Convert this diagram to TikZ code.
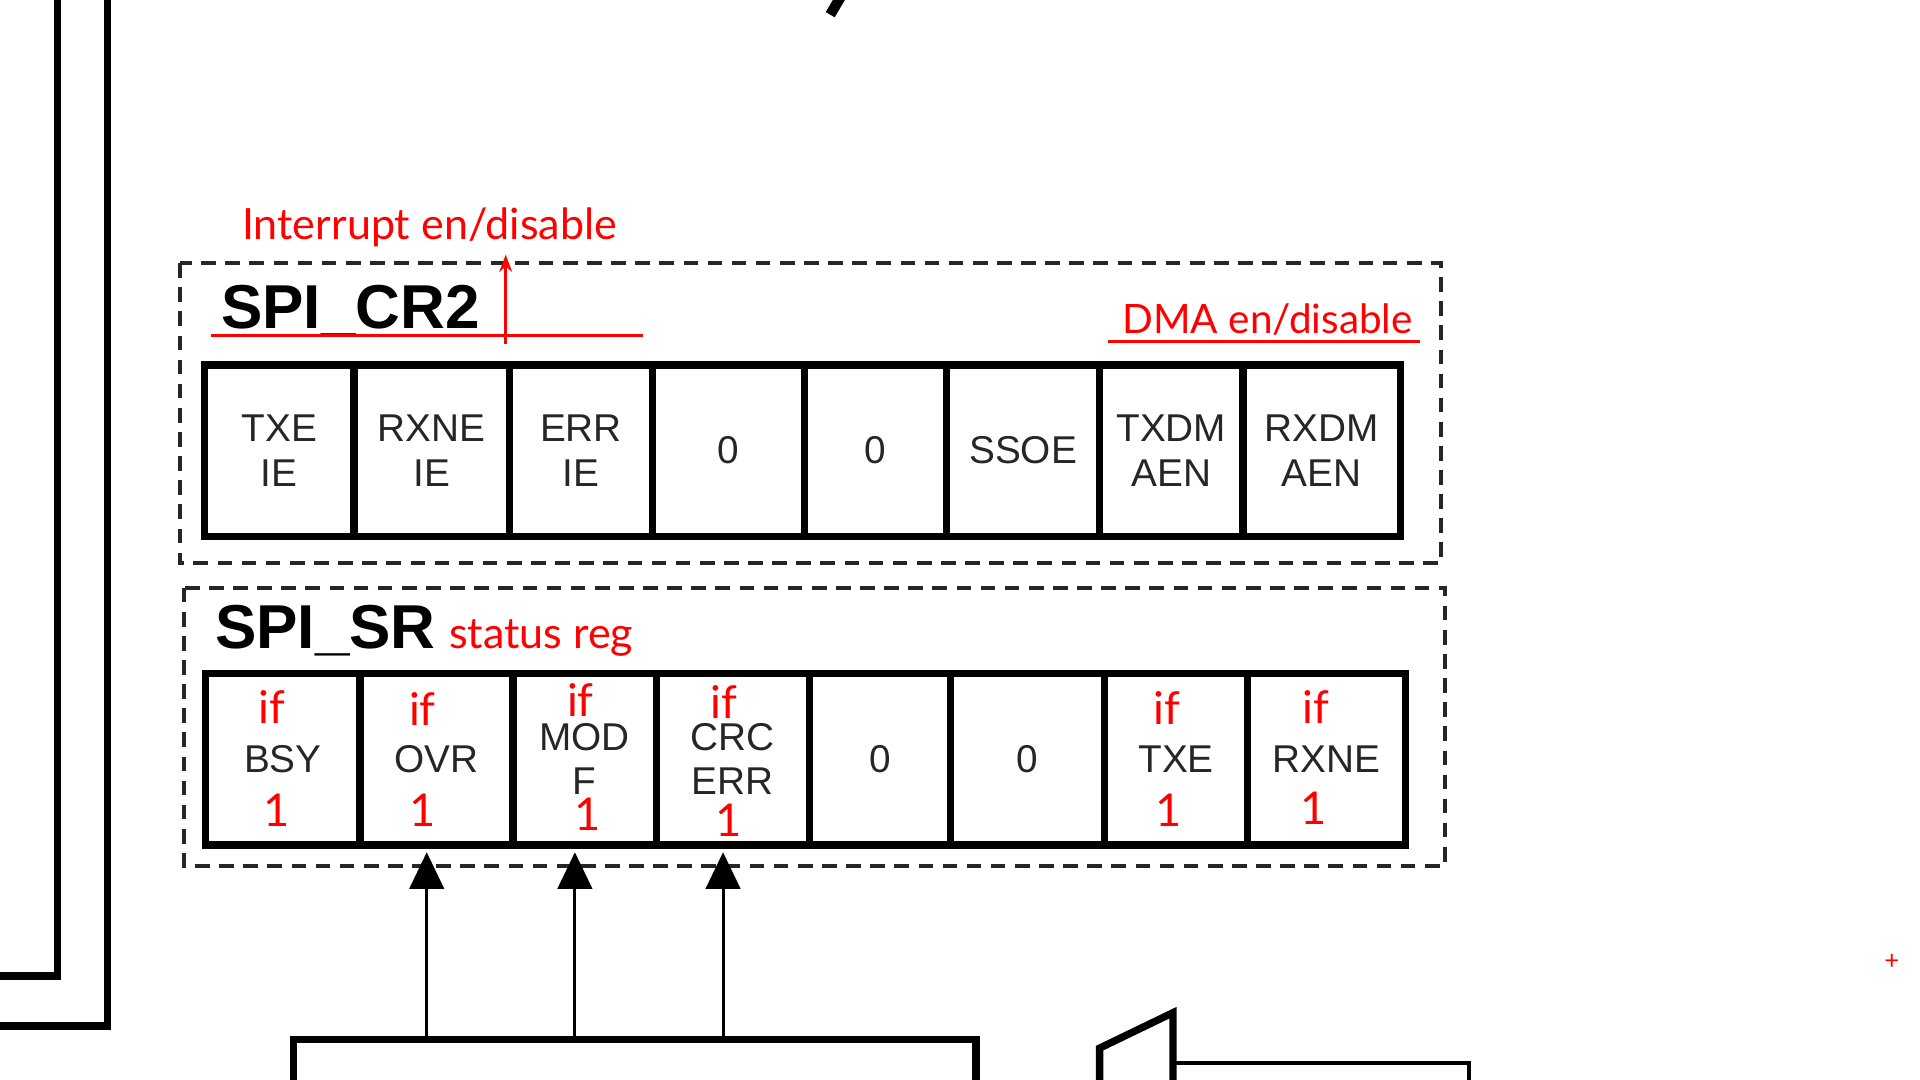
\documentclass[tikz,border=0pt]{standalone}
\usepackage{fontspec}
\setmainfont{Liberation Sans}
\newfontfamily\notefont{Lato}
\usetikzlibrary{arrows.meta,positioning}
\tikzset{
  bitcell/.style={rectangle,draw=black,line width=1.7pt,minimum height=1.4cm,inner sep=0pt,align=center,text=black!85,font=\fontsize{9}{10.3}\selectfont},
  regframe/.style={draw=black!85,line width=0.85pt,dash pattern=on 3.4pt off 2.2pt},
  regname/.style={anchor=base west,inner sep=0pt,font=\fontsize{14.4}{16}\selectfont\bfseries},
  note/.style={text=red,inner sep=0pt,font=\notefont\fontsize{10}{12}\selectfont},
  flagnote/.style={note,font=\notefont\fontsize{10.5}{12}\selectfont},
  noteline/.style={draw=red,line width=0.6pt},
  flagarrow/.style={-{Triangle[length=8.5pt,width=8pt]},line width=0.7pt},
  wire/.style={line width=1.7pt}
}

\begin{document}
\begin{tikzpicture}[x=0.01cm,y=-0.01cm]
    \clip (0,0) rectangle (1568,882);

    % wires coming in from the left and the top
    \draw[wire] (47,-10) -- (47,797) -- (-10,797);
    \draw[wire] (88,-10) -- (88,838) -- (-10,838);
    \draw[line width=2.4pt] (688,-5) -- (678,12);

    % register frames
    \draw[regframe] (147,215) rectangle (1177,460);
    \draw[regframe] (150,480) rectangle (1180,707);

    \node[regname] (crname) at (180,268) {SPI\_CR2};
    \node[regname] (srname) at (175,530) {SPI\_SR};

    % control register 2
    \foreach \i/\xl/\xr/\txt in {0/167/289/{TXE\\IE},1/289/416/{RXNE\\IE},2/416/533/{ERR\\IE},3/533/657/0,
                                 4/657/773/0,5/773/898/SSOE,6/898/1015/{TXDM\\AEN},7/1015/1144/{RXDM\\AEN}}{
      \pgfmathsetmacro\cw{(\xr-\xl)*0.01}
      \node[bitcell,minimum width=\cw cm] (cr\i) at ({(\xl+\xr)/2},368) {\txt};
    }

    % status register
    \foreach \i/\xl/\xr/\txt in {0/168/294/BSY,1/294/419/OVR,2/419/536/{MOD\\F},3/536/661/{CRC\\ERR},
                                 4/661/776/0,5/776/902/0,6/902/1019/TXE,7/1019/1148/RXNE}{
      \pgfmathsetmacro\cw{(\xr-\xl)*0.01}
      \node[bitcell,minimum width=\cw cm] (sr\i) at ({(\xl+\xr)/2},620) {\txt};
    }

    % hand notes
    \node[note,anchor=base west] (irqnote) at (197,196) {Interrupt en/disable};
    \node[note,anchor=base west,font=\notefont\fontsize{9.4}{12}\selectfont] (dmanote) at (916,272) {DMA en/disable};
    \node[note,anchor=base west] (srnote) at (366,530) {status reg};
    \draw[noteline] (172,274) -- (525,274);
    \draw[noteline] (905,279) -- (1160,279);
    \coordinate (irqfoot) at (413,281);
    \draw[noteline,-{Stealth[length=4pt,width=3pt]}] (irqfoot) -- (irqfoot |- 0,208);

    \foreach \i/\ix/\iy/\ox/\oy in {0/222/577/226/662,1/345/579/345/662,2/474/572/480/665,
                                    3/591/573/595/670,6/953/578/954/662,7/1075/577/1073/660}{
      \node[flagnote] (if\i) at (\ix,\iy) {if};
      \node[flagnote] (one\i) at (\ox,\oy) {1};
    }
    \node[note,font=\notefont\fontsize{6}{6}\selectfont] (mark) at (1545,786) {+};

    % error logic below
    \node[draw,line width=1.7pt,minimum width=5.57cm,minimum height=2.2cm] (errlogic) at (518.5,959) {};
    \foreach \i in {1,2,3}
      \draw[flagarrow] ([xshift=-0.08cm]sr\i.south |- errlogic.north) -- ([xshift=-0.08cm,yshift=-0.85pt]sr\i.south);

    % mux at the bottom right
    \draw[wire] (898,900) -- (898,856) -- (958,827) -- (958,900);
    \draw[line width=0.9pt] (958,868) -- (1200,868) -- (1200,900);
    \node[bitcell,draw=none,anchor=north] (muxin) at (937,868) {0};
\end{tikzpicture}
\end{document}
